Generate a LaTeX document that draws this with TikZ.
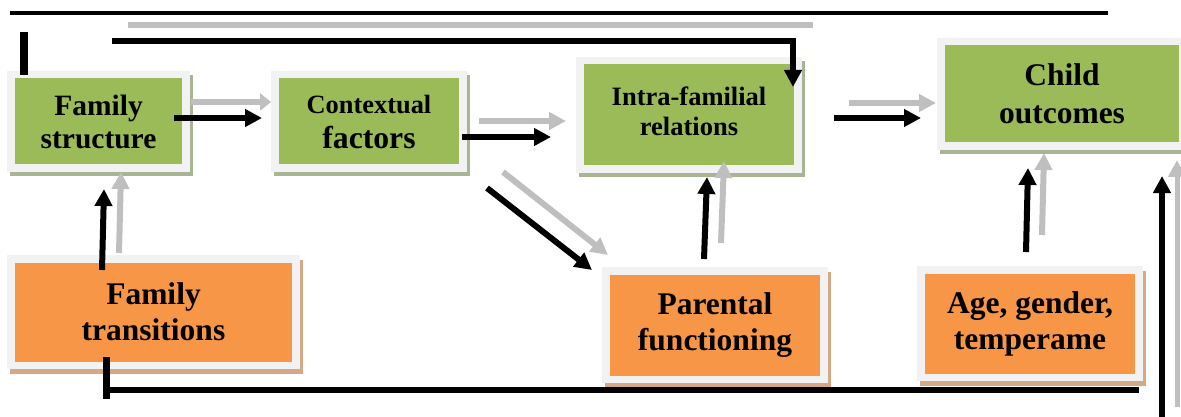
\documentclass[tikz,border=0pt]{standalone}
\usepackage{fontspec}
\setmainfont{Liberation Serif}
\usetikzlibrary{arrows.meta,shadows}
\definecolor{boxgreen}{HTML}{9BBB59}
\definecolor{boxorange}{HTML}{F79646}
\definecolor{framegray}{HTML}{F2F2F2}
\definecolor{arrowgray}{HTML}{BFBFBF}
\definecolor{greenshadow}{HTML}{A8B594}
\definecolor{orangeshadow}{HTML}{D5A985}
\tikzset{
  boxbase/.style={rectangle, inner sep=0pt, fill=framegray, align=center, text=black},
  gbox/.style={boxbase,
    general shadow={fill=greenshadow, shadow xshift=2.5pt, shadow yshift=-4.5pt},
    path picture={\fill[boxgreen] ([shift={(8pt,-7.5pt)}]path picture bounding box.north west) rectangle ([shift={(-8pt,7.5pt)}]path picture bounding box.south east);}},
  obox/.style={boxbase,
    general shadow={fill=orangeshadow, shadow xshift=2.5pt, shadow yshift=-4.5pt},
    path picture={\fill[boxorange] ([shift={(8pt,-7.5pt)}]path picture bounding box.north west) rectangle ([shift={(-8pt,7.5pt)}]path picture bounding box.south east);}},
  bigtext/.style={font=\bfseries\fontsize{31.5pt}{36pt}\selectfont},
  blk/.style={draw=black, line width=6pt, -{Triangle[length=17pt,width=17pt]}},
  gry/.style={draw=arrowgray, line width=6pt, -{Triangle[length=17pt,width=17pt]}},
  gryshort/.style={draw=arrowgray, line width=6pt, -{Triangle[length=11pt,width=17pt]}},
  barline/.style={draw=black, line width=#1},
  grayline/.style={draw=arrowgray, line width=#1},
}
\begin{document}
\begin{tikzpicture}[x=1pt,y=-1pt]
\useasboundingbox (0,0) rectangle (1181,417);
\clip (0,0) rectangle (1181,417);

% boxes
\node[gbox, minimum width=183pt, minimum height=101pt, font=\bfseries\fontsize{29.5pt}{33pt}\selectfont] (FS) at (98.5,121.5) {Family\\structure};
\node[gbox, minimum width=196pt, minimum height=101pt, font=\bfseries\fontsize{31.7pt}{35pt}\selectfont] (CF) at (369,121.5) {{\fontsize{26.4pt}{35pt}\selectfont Contextual}\\factors};
\node[gbox, minimum width=226pt, minimum height=116pt, font=\bfseries\fontsize{26.5pt}{30pt}\selectfont] (IR) at (689,115) {\raisebox{6pt}{\begin{tabular}{@{}c@{}}Intra-familial\\relations\end{tabular}}};
\node[gbox, minimum width=250pt, minimum height=112pt, font=\bfseries\fontsize{31.5pt}{38pt}\selectfont] (CO) at (1062,94) {Child\\outcomes};
\node[obox, bigtext, minimum width=293pt, minimum height=114pt] (FT) at (153.5,312) {Family\\transitions};
\node[obox, bigtext, minimum width=226pt, minimum height=116pt] (PF) at (715,325) {Parental\\functioning};
\node[obox, bigtext, minimum width=226pt, minimum height=115pt] (AG) at (1030,323.5) {Age, gender,\\temperame};

% free ends of connectors
\coordinate (t1) at (10,13);   \coordinate (t2) at (1108,13);
\coordinate (g1) at (128,25);  \coordinate (g2) at (813,25);
\coordinate (l1) at (112,41);  \coordinate (l2) at (793,87);
\coordinate (s1) at (24,32);   \coordinate (s2) at (24,75);
\coordinate (fsg1) at (191,102); \coordinate (fsg2) at (271,102);
\coordinate (fsb1) at (174,118); \coordinate (fsb2) at (262,118);
\coordinate (cfg1) at (479,121); \coordinate (cfg2) at (566,121);
\coordinate (cfb1) at (462,137); \coordinate (cfb2) at (551,137);
\coordinate (irg1) at (849,103); \coordinate (irg2) at (936,103);
\coordinate (irb1) at (834,118); \coordinate (irb2) at (921,118);
\coordinate (dgb1) at (487,188); \coordinate (dgb2) at (592,270);
\coordinate (dgg1) at (503,172); \coordinate (dgg2) at (608,255);
\coordinate (pfb1) at (704,259); \coordinate (pfb2) at (707,177);
\coordinate (pfg1) at (721,243); \coordinate (pfg2) at (724,161);
\coordinate (ftb1) at (102,270); \coordinate (ftb2) at (104,189);
\coordinate (ftg1) at (119,253); \coordinate (ftg2) at (121,172);
\coordinate (agb1) at (1026,252); \coordinate (agb2) at (1028,168);
\coordinate (agg1) at (1042,235); \coordinate (agg2) at (1044,153);
\coordinate (bt1) at (106,357); \coordinate (bt2) at (106,399);
\coordinate (bh1) at (106,390); \coordinate (bh2) at (1139,390);
\coordinate (rb1) at (1162,417); \coordinate (rb2) at (1162,176);
\coordinate (rg1) at (1177,407); \coordinate (rg2) at (1177,160);

% top lines
\draw[barline=4pt] (t1) -- (t2);
\draw[grayline=5.3pt] (g1) -- (g2);
\draw[blk, line width=5.3pt] (l1) -| (l2);
\draw[barline=7.5pt] (s1) -- (s2);

% horizontal arrows
\draw[gryshort] (fsg1) -- (fsg2);
\draw[blk] (fsb1) -- (fsb2);
\draw[gry] (cfg1) -- (cfg2);
\draw[blk] (cfb1) -- (cfb2);
\draw[gry] (irg1) -- (irg2);
\draw[blk] (irb1) -- (irb2);

% diagonal arrows
\draw[gry] (dgg1) -- (dgg2);
\draw[blk] (dgb1) -- (dgb2);

% vertical arrows
\draw[gry] (pfg1) -- (pfg2);
\draw[blk] (pfb1) -- (pfb2);
\draw[gry] (ftg1) -- (ftg2);
\draw[blk] (ftb1) -- (ftb2);
\draw[gry] (agg1) -- (agg2);
\draw[blk] (agb1) -- (agb2);

% bottom feedback line
\draw[barline=7pt] (bt1) -- (bt2);
\draw[barline=6.5pt] (bh1) -- (bh2);

% right edge arrows
\draw[gry, line width=5pt] (rg1) -- (rg2);
\draw[blk] (rb1) -- (rb2);
\end{tikzpicture}
\end{document}
